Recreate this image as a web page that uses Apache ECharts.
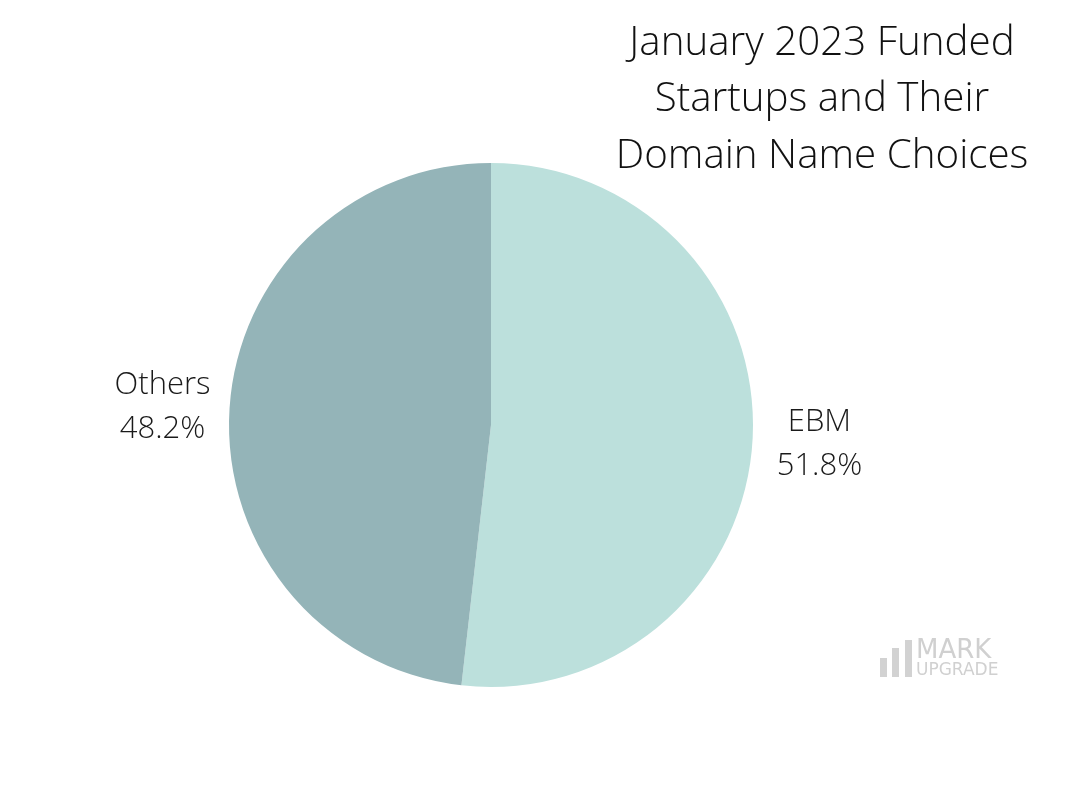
<!DOCTYPE html>
<html>
<head>
<meta charset="utf-8">
<script src="https://cdn.jsdelivr.net/npm/echarts@6/dist/echarts.min.js"></script>
<style>html,body{margin:0;padding:0;background:#fff}#c{width:1080px;height:800px}</style>
</head>
<body>
<div id="c"></div>
<script>
const categories = ['EBM', 'Others'];
const values = [51.8, 48.2];
const colors = ['#BCE0DC', '#94B4B8'];
const titleText = 'January 2023 Funded\nStartups and Their\nDomain Name Choices';

const FONT = '"Open Sans", sans-serif';
const data = categories.map((c, i) => ({ name: c, value: values[i], itemStyle: { color: colors[i] } }));
const labelData = categories.map((c, i) => ({ name: c, value: values[i] }));

const chart = echarts.init(document.getElementById('c'));
chart.setOption({
  backgroundColor: '#ffffff',
  animation: false,
  title: {
    text: titleText,
    left: 817,
    top: 10,
    textAlign: 'center',
    textStyle: { fontFamily: FONT, fontWeight: 300, fontSize: 40.3, lineHeight: 56.5, color: '#111111' }
  },
  series: [
    {
      type: 'pie',
      center: [491, 425],
      radius: [0, 262],
      startAngle: 90,
      clockwise: true,
      silent: true,
      label: { show: false },
      labelLine: { show: false },
      data: data
    },
    {
      type: 'pie',
      center: [491, 426],
      radius: [262, 390],
      startAngle: 90,
      clockwise: true,
      silent: true,
      itemStyle: { color: 'rgba(0,0,0,0)' },
      label: {
        show: true,
        position: 'inside',
        formatter: p => p.name + '\n' + p.value.toFixed(1) + '%',
        fontFamily: FONT,
        fontWeight: 300,
        fontSize: 31,
        lineHeight: 44,
        color: '#1a1a1a'
      },
      labelLine: { show: false },
      data: labelData
    }
  ],
  graphic: [
    { type: 'rect', shape: { x: 880, y: 658, width: 7, height: 19 }, style: { fill: '#d2d2d2' } },
    { type: 'rect', shape: { x: 892, y: 648, width: 7, height: 29 }, style: { fill: '#d2d2d2' } },
    { type: 'rect', shape: { x: 905, y: 640, width: 7, height: 37 }, style: { fill: '#d2d2d2' } },
    { type: 'text', style: { x: 916, y: 638, text: 'MARK', font: '500 26px "DejaVu Sans", sans-serif', fill: '#d0d0d0' } },
    { type: 'text', style: { x: 916, y: 662, text: 'UPGRADE', font: '500 17px "DejaVu Sans", sans-serif', fill: '#d0d0d0' } }
  ]
});
</script>
</body>
</html>
